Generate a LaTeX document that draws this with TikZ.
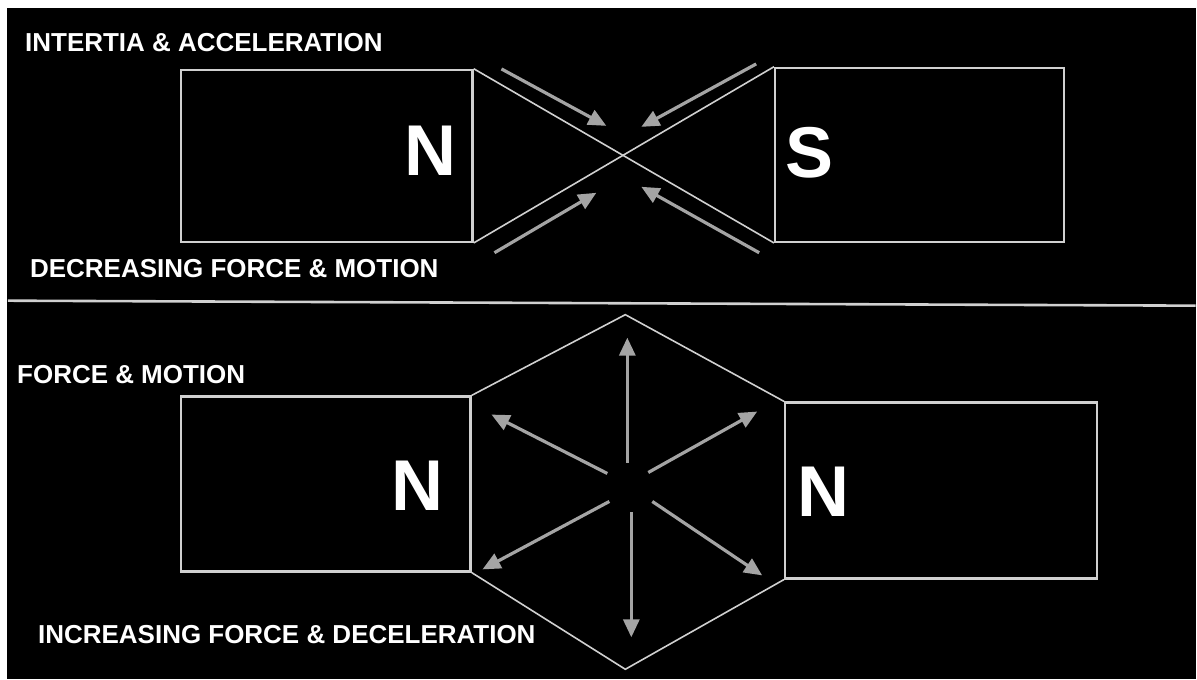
\documentclass[tikz,border=0pt]{standalone}
\usepackage{fontspec}
\setmainfont{Liberation Sans}
\usetikzlibrary{arrows.meta,positioning,calc}
\definecolor{Line}{HTML}{D0D0D0}
\definecolor{Arrow}{HTML}{A4A4A4}
\definecolor{Pole}{HTML}{FFFFFF}

\begin{document}
\begin{tikzpicture}[x=1pt,y=-1pt,
 m/.style={draw=Line,line width=2.4pt,inner sep=0pt},
 lbl/.style={text=Pole,font=\fontsize{26}{30}\selectfont\bfseries,anchor=west,inner sep=0pt},
 pole/.style={text=Pole,font=\fontsize{72}{72}\selectfont\bfseries,inner sep=0pt},
 w/.style={draw=Line,line width=1.6pt},
 a/.style={-{Triangle[length=18pt,width=16pt]},line width=3.2pt,draw=Arrow}
]
\fill[white] (0,0) rectangle (1197,680);
\fill[black] (7,8) rectangle (1197,680);
% attraction
\node[m,minimum width=292pt,minimum height=172pt] (m1) at (327,156) {};
\node[m,minimum width=289pt,minimum height=174pt] (m2) at (920.5,155) {};
\node[pole] (n1) at (431,151) {N};
\node[pole] (s1) at (810,153) {S};
\node[lbl] (t1) at (25,43) {INTERTIA \& ACCELERATION};
\node[lbl] (t2) at (30,269) {DECREASING FORCE \& MOTION};
\draw[w] (m1.north east)--(m2.south west);\draw[w] (m1.south east)--(m2.north west);
\coordinate (p1) at (502,69);\coordinate (q1) at (607,126);
\coordinate (p2) at (757,64);\coordinate (q2) at (642,127);
\coordinate (p3) at (495,253);\coordinate (q3) at (597,193);
\coordinate (p4) at (760,253);\coordinate (q4) at (642,187);
\draw[a] (p1)--(q1);\draw[a] (p2)--(q2);\draw[a] (p3)--(q3);\draw[a] (p4)--(q4);
% divider
\coordinate (d1) at (8,301);\coordinate (d2) at (1197,306);
\draw[draw=Line,line width=2.6pt] (d1)--(d2);
% repulsion
\node[m,minimum width=290pt,minimum height=175pt] (m3) at (326,484.5) {};
\node[m,minimum width=312pt,minimum height=176pt] (m4) at (942,491) {};
\node[pole] (n2) at (418,486) {N};
\node[pole] (n3) at (824,492) {N};
\node[lbl] (t3) at (17,375) {FORCE \& MOTION};
\node[lbl] (t4) at (38,635) {INCREASING FORCE \& DECELERATION};
\coordinate (h1) at (626,315);\coordinate (h2) at (626,670);
\draw[w] (m3.north east)--(h1)--(m4.north west);\draw[w] (m3.south east)--(h2)--(m4.south west);
\coordinate (r1) at (628,463);\coordinate (u1) at (628,338);
\coordinate (r2) at (632,513);\coordinate (u2) at (632,638);
\coordinate (r3) at (608,474);\coordinate (u3) at (492,415);
\coordinate (r4) at (649,473);\coordinate (u4) at (758,412);
\coordinate (r5) at (610,502);\coordinate (u5) at (483,570);
\coordinate (r6) at (653,502);\coordinate (u6) at (763,576);
\draw[a] (r1)--(u1);\draw[a] (r2)--(u2);\draw[a] (r3)--(u3);
\draw[a] (r4)--(u4);\draw[a] (r5)--(u5);\draw[a] (r6)--(u6);
\end{tikzpicture}
\end{document}
